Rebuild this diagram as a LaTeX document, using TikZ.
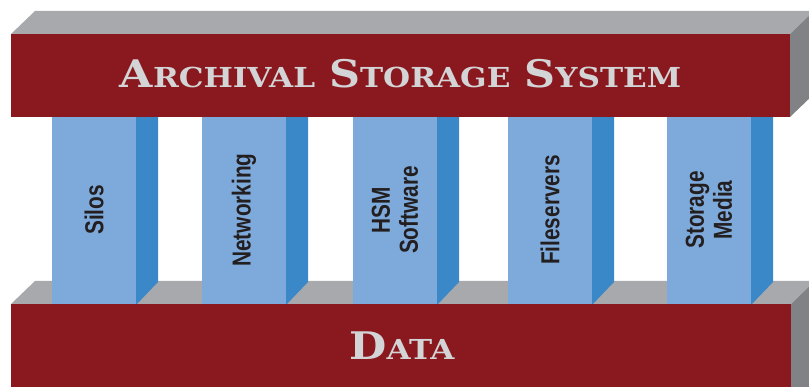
\documentclass[tikz,border=0pt]{standalone}
\usepackage{fontspec}
\newfontfamily\pillarfont[FakeStretch=0.8]{Liberation Sans}
\newfontfamily\beamfont[FakeStretch=1.13]{DejaVu Serif}
\definecolor{beamred}{HTML}{8A191F}
\definecolor{beamtop}{HTML}{A7A9AC}
\definecolor{beamside}{HTML}{808285}
\definecolor{pillarfront}{HTML}{7EAADB}
\definecolor{pillarside}{HTML}{3A88C8}
\definecolor{titlegray}{HTML}{D3D4D6}
\definecolor{pillartext}{HTML}{231F20}
% capitals with smaller capitals after them
\newcommand\capsword[2]{{\fontsize{38}{38}\selectfont #1}{\fontsize{27.5}{27.5}\selectfont #2}}
\newcommand\wordgap{\hspace{14pt}}
\tikzset{
  beamtitle/.style={anchor=base, text=titlegray, font=\beamfont\bfseries, inner sep=0pt},
  pillarlabel/.style={text=pillartext, rotate=90, align=center,
    font=\pillarfont\bfseries\fontsize{26}{28}\selectfont, inner sep=0pt},
}
\begin{document}
\begin{tikzpicture}[x=1pt,y=1pt]
\useasboundingbox (0,0) rectangle (809,387);
\begin{scope}
\clip (0,0) rectangle (809,387);
% lower beam: top and end faces
\fill[beamtop] (11,83) -- (791,83) -- (815,106) -- (35,106) -- cycle;
\fill[beamside] (791,83) -- (815,106) -- (815,-10) -- (791,-10) -- cycle;
% pillars
\foreach \px/\lbl in {52/Silos, 202/Networking, 353/{HSM\\Software}, 508/Fileservers, 667/{Storage\\Media}} {
  \fill[pillarside] (\px+84,82) -- (\px+106,105) -- (\px+106,275) -- (\px+84,275) -- cycle;
  \fill[pillarfront] (\px,82) rectangle (\px+84,275);
  \node[pillarlabel] (p\px) at (\px+42,177) {\lbl};
}
% lower beam: front face
\fill[beamred] (11,83) rectangle (791,-10);
\node[beamtitle] (data) at (402,27) {\capsword{D}{ATA}};
% upper beam
\fill[beamtop] (11,353) -- (790,353) -- (814,376) -- (35,376) -- cycle;
\fill[beamside] (790,353) -- (814,376) -- (814,293) -- (790,270) -- cycle;
\fill[beamred] (11,270) rectangle (790,353);
\node[beamtitle] (title) at (400.5,299) {\capsword{A}{RCHIVAL}\wordgap\capsword{S}{TORAGE}\wordgap\capsword{S}{YSTEM}};
\end{scope}
\end{tikzpicture}
\end{document}
